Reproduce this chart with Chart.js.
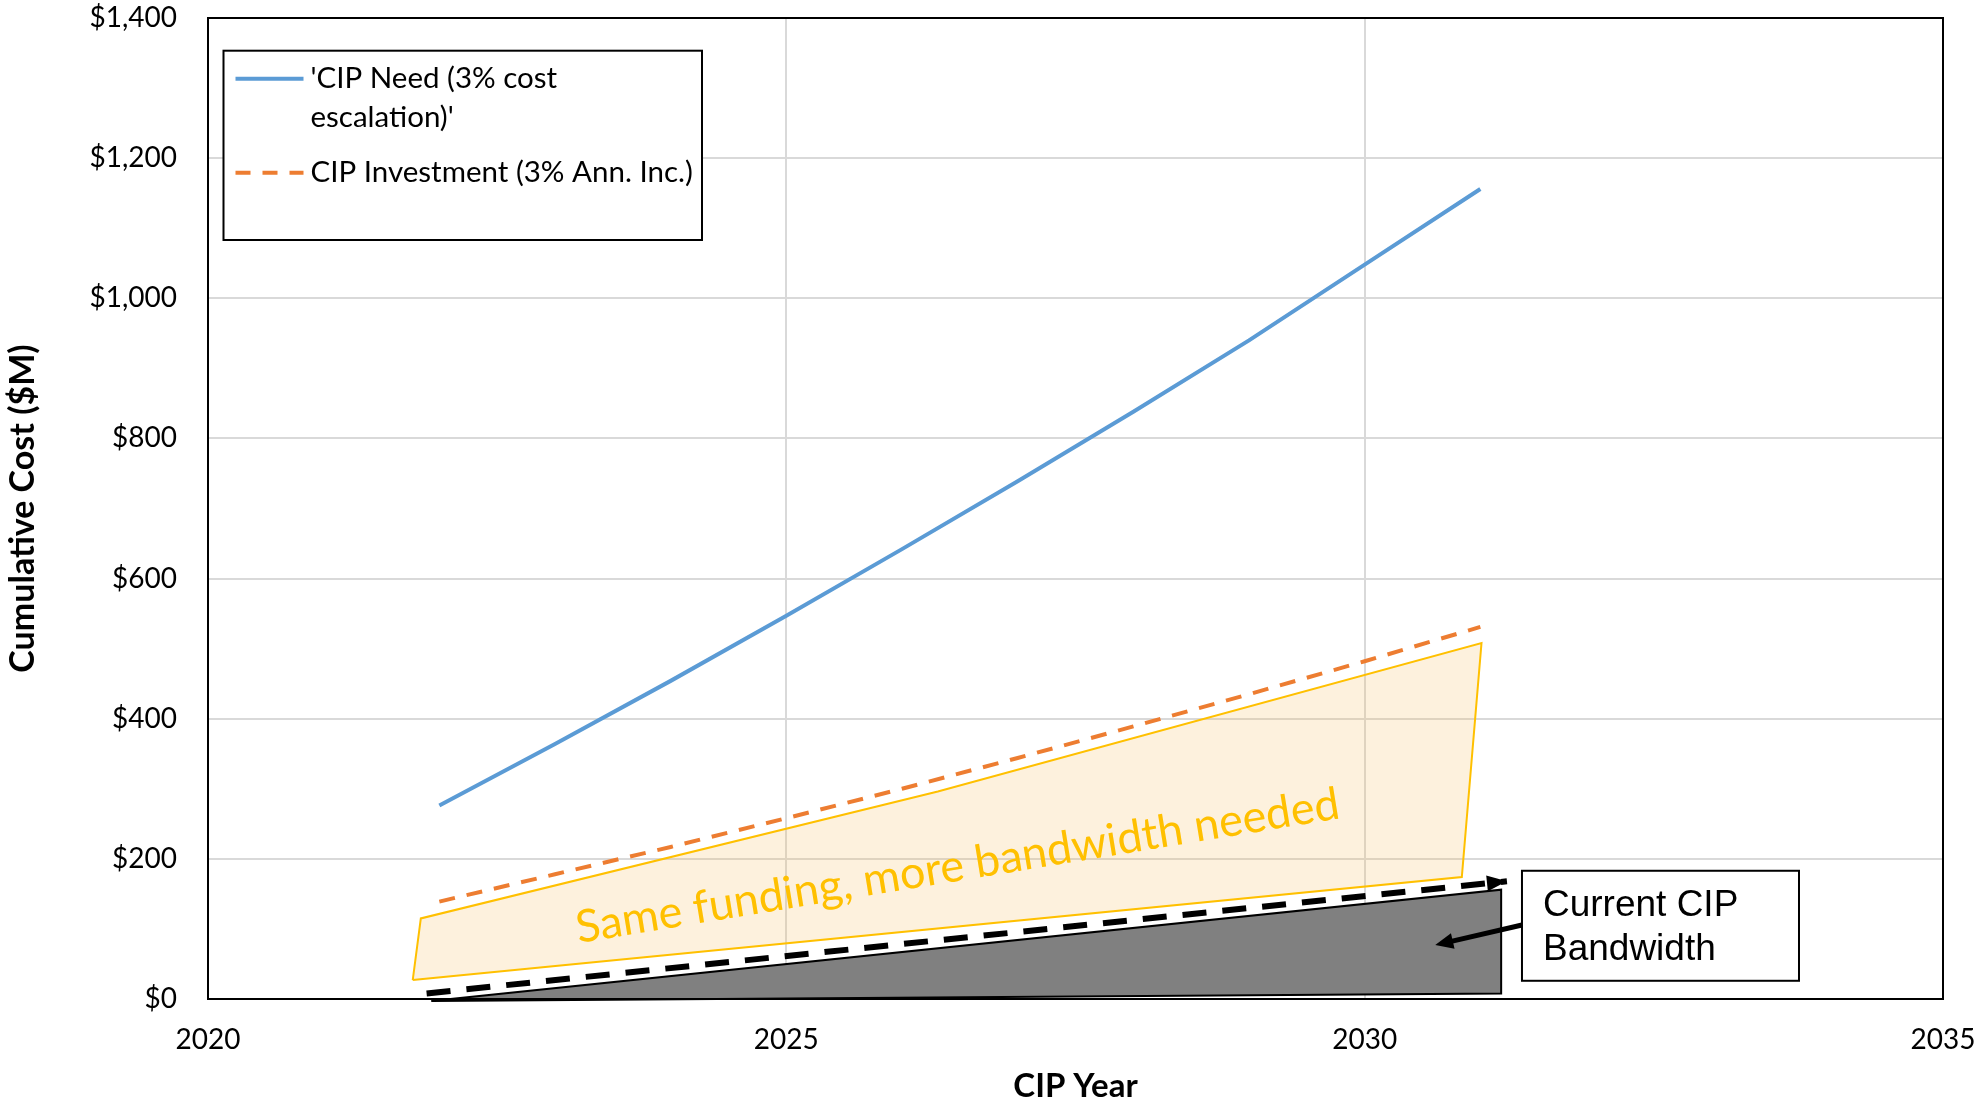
<!DOCTYPE html>
<html>
<head>
<meta charset="utf-8">
<script src="https://cdn.jsdelivr.net/npm/chart.js@4.4.1/dist/chart.umd.min.js"></script>
<style>
  html, body { margin: 0; padding: 0; background: #fff; }
  #wrap { width: 1980px; height: 1103px; }
</style>
</head>
<body>
<div id="wrap"><canvas id="cipChart" width="1980" height="1103"></canvas></div>
<script>
(() => {
    // --- Datos ---
    const years = [2022, 2023, 2024, 2025, 2026, 2027, 2028, 2029, 2030, 2031];
    const cipNeed = [276, 364, 454, 547, 642, 739, 838, 940, 1048, 1156];
    const cipInvestment = [139, 178, 217, 258, 300, 344, 389, 435, 482, 531];

    // flecha punteada "Current CIP Bandwidth"
    const bandwidthYears = [2021.89, 2031.23];
    const bandwidthValues = [8, 168];

    // area gris (bandwidth actual)
    const grayYears = [2021.93, 2031.18, 2031.18, 2021.93];
    const grayValues = [-3, 156, 8, -3];

    // area amarilla "Same funding, more bandwidth needed"
    const gapYears = [2021.77, 2021.84, 2026.31, 2031.01, 2030.84, 2021.77];
    const gapValues = [27, 115, 296, 508, 174, 27];

    const xTicks = [2020, 2025, 2030, 2035];
    const yTicks = [0, 200, 400, 600, 800, 1000, 1200, 1400];

    const seriesNames = ["'CIP Need (3% cost escalation)'", "CIP Investment (3% Ann. Inc.)"];
    const gapLabel = "Same funding, more bandwidth needed";
    const boxLabel = ["Current CIP", "Bandwidth"];

    const toPoints = (xs, ys) => xs.map((x, i) => ({ x: x, y: ys[i] }));

    const FONT = "Lato, 'Open Sans', sans-serif";
    const BLUE = "#5B9BD5";
    const ORANGE = "#ED7D31";

    // --- Dibujo de anotaciones ---
    const arrowHead = (ctx, x0, y0, x1, y1, len, half) => {
        const a = Math.atan2(y1 - y0, x1 - x0);
        ctx.save();
        ctx.translate(x1, y1);
        ctx.rotate(a);
        ctx.beginPath();
        ctx.moveTo(0, 0);
        ctx.lineTo(-len, -half);
        ctx.lineTo(-len, half);
        ctx.closePath();
        ctx.fill();
        ctx.restore();
    };

    const annotations = {
        id: "annotations",
        afterDatasetsDraw(chart) {
            const { ctx, chartArea: ca, scales: { x, y } } = chart;
            ctx.save();

            // marco del area de grafico
            ctx.strokeStyle = "#000";
            ctx.lineWidth = 2;
            ctx.strokeRect(ca.left, ca.top, ca.right - ca.left, ca.bottom - ca.top);

            // punta de flecha de la linea punteada
            const n = bandwidthYears.length - 1;
            ctx.fillStyle = "#000";
            arrowHead(ctx,
                x.getPixelForValue(bandwidthYears[n - 1]), y.getPixelForValue(bandwidthValues[n - 1]),
                x.getPixelForValue(bandwidthYears[n]), y.getPixelForValue(bandwidthValues[n]), 20, 8);

            // texto rotado
            ctx.save();
            ctx.translate(x.getPixelForValue(2026.5), y.getPixelForValue(169));
            ctx.rotate(-9.3 * Math.PI / 180);
            ctx.fillStyle = "#FFC000";
            ctx.font = "45px " + FONT;
            ctx.textAlign = "center";
            ctx.textBaseline = "alphabetic";
            ctx.fillText(gapLabel, 0, 0);
            ctx.restore();

            // caja de texto
            const bx0 = x.getPixelForValue(2031.36), bx1 = x.getPixelForValue(2033.755);
            const by0 = y.getPixelForValue(183), by1 = y.getPixelForValue(26);
            ctx.fillStyle = "#fff";
            ctx.fillRect(bx0, by0, bx1 - bx0, by1 - by0);
            ctx.strokeStyle = "#000";
            ctx.lineWidth = 2;
            ctx.strokeRect(bx0, by0, bx1 - bx0, by1 - by0);
            ctx.fillStyle = "#000";
            ctx.font = "37px 'Liberation Sans', Arial, sans-serif";
            ctx.textAlign = "left";
            ctx.fillText(boxLabel[0], bx0 + 21, by0 + 45);
            ctx.fillText(boxLabel[1], bx0 + 21, by0 + 89);

            // flecha desde la caja
            const ax0 = bx0, ay0 = y.getPixelForValue(105.6);
            const ax1 = x.getPixelForValue(2030.61), ay1 = y.getPixelForValue(77);
            ctx.strokeStyle = "#000";
            ctx.lineWidth = 5;
            ctx.beginPath();
            ctx.moveTo(ax0, ay0);
            const ang = Math.atan2(ay1 - ay0, ax1 - ax0);
            ctx.lineTo(ax1 - Math.cos(ang) * 12, ay1 - Math.sin(ang) * 12);
            ctx.stroke();
            arrowHead(ctx, ax0, ay0, ax1, ay1, 18, 8);

            // leyenda
            const lx = ca.left + 15.5, ly = ca.top + 32.7, lw = 478.5, lh = 189.3;
            ctx.fillStyle = "#fff";
            ctx.fillRect(lx, ly, lw, lh);
            ctx.strokeStyle = "#000";
            ctx.lineWidth = 2;
            ctx.strokeRect(lx, ly, lw, lh);
            ctx.font = "29.5px " + FONT;
            ctx.textBaseline = "middle";
            ctx.fillStyle = "#000";
            ctx.lineWidth = 4;

            ctx.strokeStyle = BLUE;
            ctx.setLineDash([]);
            ctx.beginPath();
            ctx.moveTo(lx + 12, ly + 28);
            ctx.lineTo(lx + 80, ly + 28);
            ctx.stroke();
            ctx.fillText("'CIP Need (3% cost", lx + 87, ly + 28);
            ctx.fillText("escalation)'", lx + 87, ly + 67);

            ctx.strokeStyle = ORANGE;
            ctx.setLineDash([15, 12]);
            ctx.beginPath();
            ctx.moveTo(lx + 12, ly + 122);
            ctx.lineTo(lx + 80, ly + 122);
            ctx.stroke();
            ctx.setLineDash([]);
            ctx.fillText(seriesNames[1], lx + 87, ly + 122);

            ctx.restore();
        }
    };

    // --- Grafico ---
    const ctx = document.getElementById("cipChart").getContext("2d");
    new Chart(ctx, {
        type: "line",
        data: {
            datasets: [
                {
                    label: seriesNames[0],
                    data: toPoints(years, cipNeed),
                    borderColor: BLUE, borderWidth: 4,
                    pointRadius: 0, fill: false, order: 0
                },
                {
                    label: seriesNames[1],
                    data: toPoints(years, cipInvestment),
                    borderColor: ORANGE, borderWidth: 4, borderDash: [16, 12],
                    pointRadius: 0, fill: false, order: 1
                },
                {
                    label: "Current CIP Bandwidth",
                    data: toPoints(bandwidthYears, bandwidthValues),
                    borderColor: "#000", borderWidth: 6, borderDash: [24, 16],
                    pointRadius: 0, fill: false, order: 2, clip: false
                },
                {
                    label: "bandwidth area",
                    data: toPoints(grayYears, grayValues),
                    borderColor: "#000", borderWidth: 2,
                    backgroundColor: "#808080",
                    pointRadius: 0, fill: "shape", order: 3, clip: false
                },
                {
                    label: "gap area",
                    data: toPoints(gapYears, gapValues),
                    borderColor: "#FFC000", borderWidth: 2,
                    backgroundColor: "rgba(247, 190, 100, 0.22)",
                    pointRadius: 0, fill: "shape", order: 4
                }
            ]
        },
        options: {
            responsive: false,
            animation: false,
            devicePixelRatio: 1,
            layout: { padding: { left: 0, top: 18, right: 37, bottom: 0 } },
            plugins: {
                legend: { display: false },
                tooltip: { enabled: false }
            },
            scales: {
                x: {
                    type: "linear",
                    min: xTicks[0], max: xTicks[xTicks.length - 1],
                    afterBuildTicks: (s) => { s.ticks = xTicks.map(v => ({ value: v })); },
                    afterFit: (s) => { s.height = 104; s.paddingLeft = 0; s.paddingRight = 0; },
                    grid: { color: "#d9d9d9", lineWidth: 2, drawTicks: false },
                    border: { color: "#000", width: 2 },
                    ticks: {
                        padding: 24,
                        color: "#000",
                        font: { family: FONT, size: 28 },
                        callback: (v) => String(v)
                    },
                    title: {
                        display: true, text: "CIP Year", color: "#000",
                        font: { family: FONT, size: 33, weight: "bold", lineHeight: 1 },
                        padding: { top: 0, bottom: 0 }
                    }
                },
                y: {
                    type: "linear",
                    min: yTicks[0], max: yTicks[yTicks.length - 1],
                    afterBuildTicks: (s) => { s.ticks = yTicks.map(v => ({ value: v })); },
                    afterFit: (s) => { s.width = 208; s.paddingTop = 0; s.paddingBottom = 0; },
                    grid: { color: "#d9d9d9", lineWidth: 2, drawTicks: false },
                    border: { color: "#000", width: 2 },
                    ticks: {
                        padding: 31,
                        color: "#000",
                        font: { family: FONT, size: 28 },
                        callback: (v) => "$" + Number(v).toLocaleString("en-US")
                    },
                    title: {
                        display: true, text: "Cumulative Cost ($M)", color: "#000",
                        font: { family: FONT, size: 34, weight: "bold", lineHeight: 1 },
                        padding: { top: 6, bottom: 0 }
                    }
                }
            }
        },
        plugins: [annotations]
    });
})();
</script>
</body>
</html>
